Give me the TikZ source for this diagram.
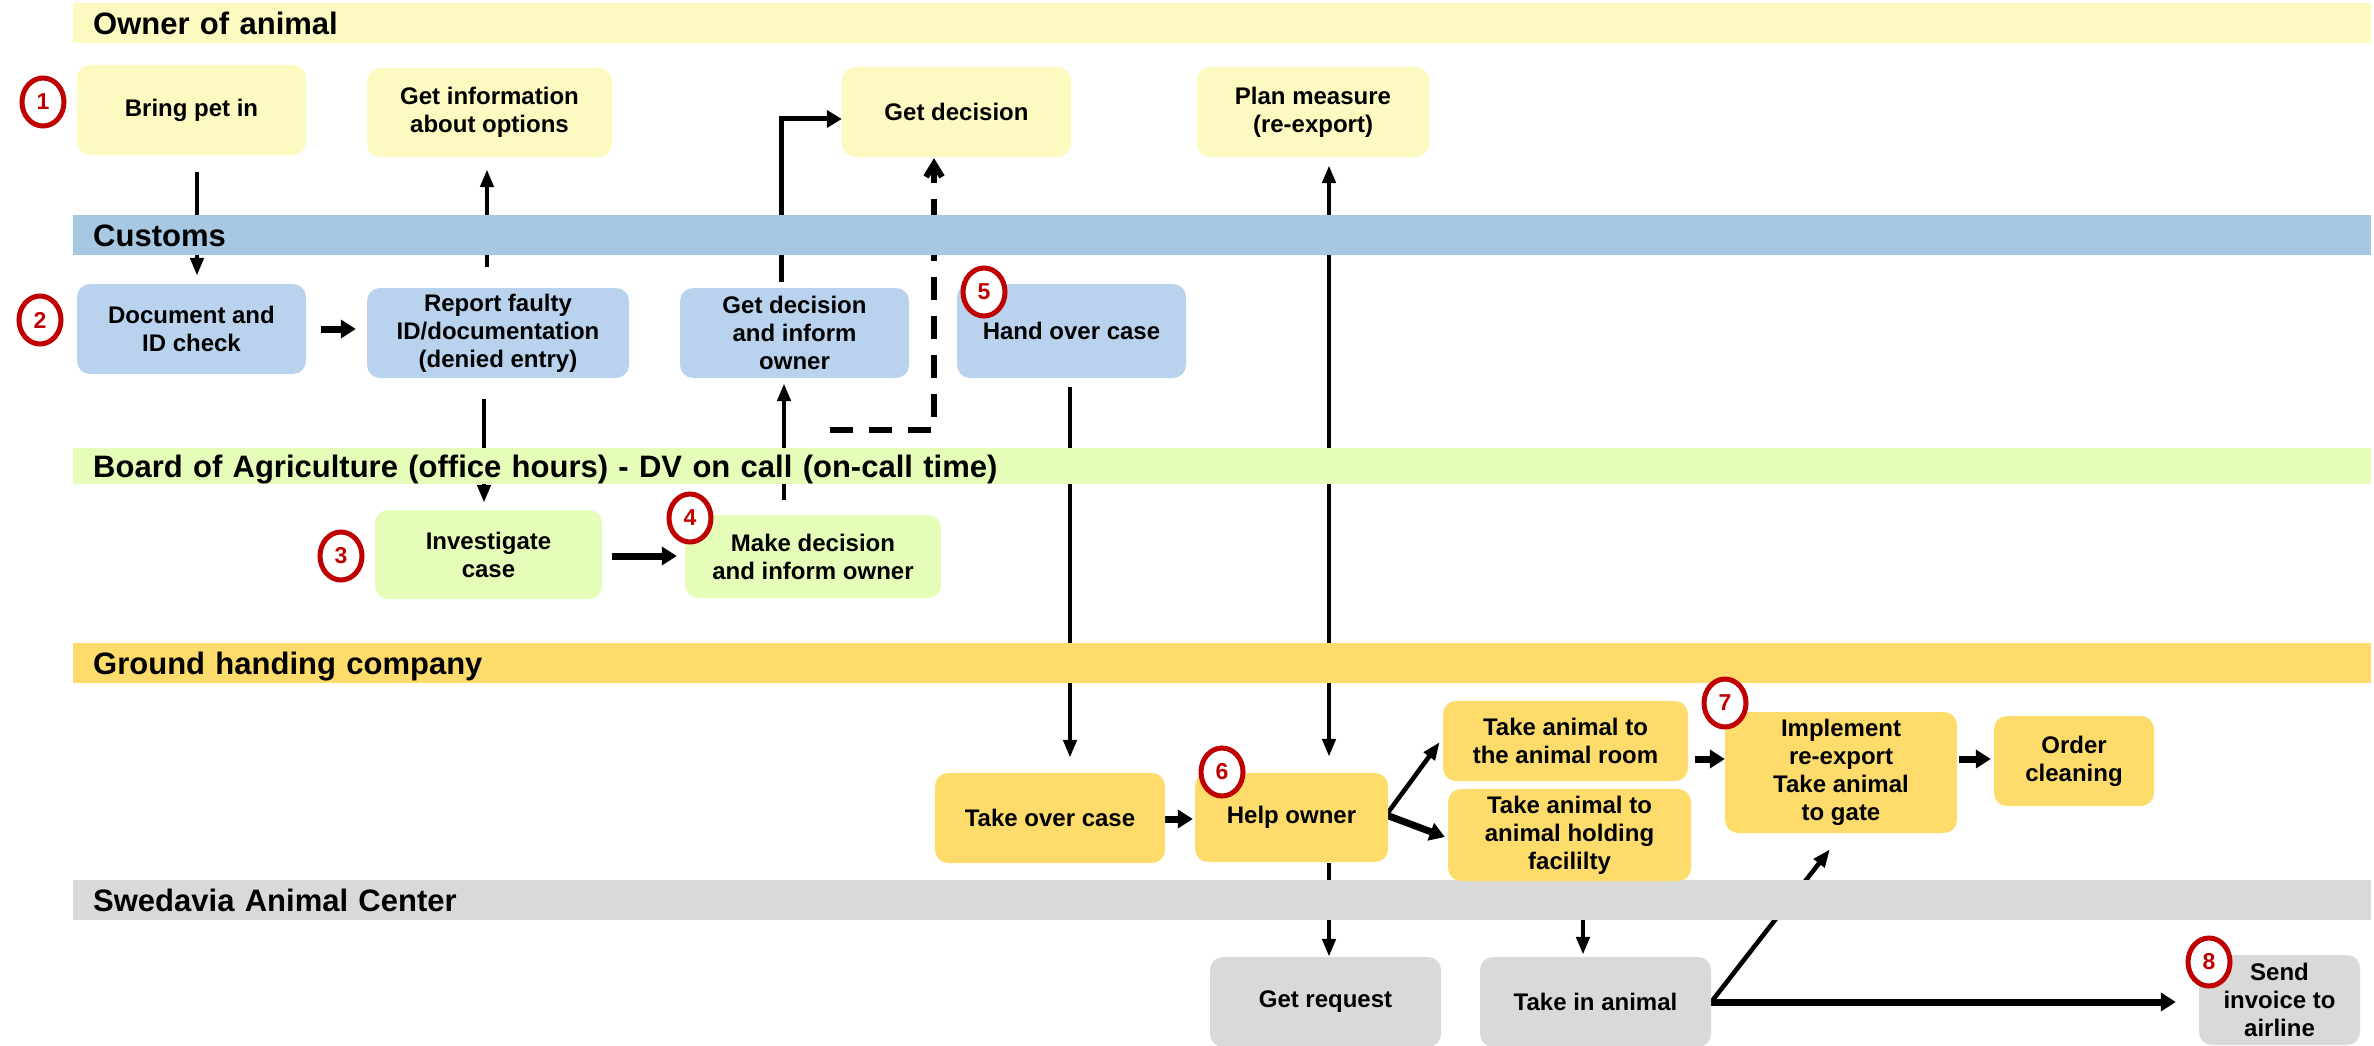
\documentclass[tikz,border=0pt]{standalone}
\usepackage{fontspec}
\setmainfont{Liberation Sans}
\usetikzlibrary{arrows.meta,calc,shapes.geometric}
\definecolor{ownerC}{HTML}{FCFAC0}
\definecolor{custBand}{HTML}{A6C8E2}
\definecolor{custBox}{HTML}{B9D3EE}
\definecolor{boardC}{HTML}{E5FDB8}
\definecolor{groundC}{HTML}{FEDC6B}
\definecolor{swedC}{HTML}{D9D9D9}
\definecolor{numred}{HTML}{C00000}
\pgfdeclarelayer{bg}
\pgfdeclarelayer{lines}
\pgfdeclarelayer{bands}
\pgfsetlayers{bg,lines,bands,main}
\begin{document}
\begin{tikzpicture}[x=1pt,y=-1pt,
 box/.style={rectangle, rounded corners=13pt, inner sep=0pt, align=center,
   font=\fontsize{24}{28}\selectfont\bfseries, text=black},
 lane/.style={rectangle, anchor=north west, inner xsep=20pt, inner ysep=0pt,
   minimum width=2298pt, text width=2258pt, align=left,
   font=\fontsize{31}{36}\selectfont\bfseries, text height=22pt, text depth=0pt},
 num/.style={ellipse, draw=numred, line width=5pt, fill=white, minimum width=42pt,
   minimum height=48pt, inner sep=0pt, text=numred, font=\fontsize{23}{24}\selectfont\bfseries},
 conn/.style={line width=4.6pt, -{Triangle[length=18pt,width=13pt]}},
 fat/.style={line width=7pt, -{Triangle[length=15pt,width=18pt]}},
 dashconn/.style={line width=6pt, dash pattern=on 23pt off 16pt, -{Straight Barb[length=13pt,width=16pt]}}
]
\useasboundingbox (0,0) rectangle (2374,1046);
\begin{pgfonlayer}{bg}
\fill[white] (0,0) rectangle (2374,1046);
\end{pgfonlayer}

% boxes: owner
\node[box, fill=ownerC, minimum width=229pt, minimum height=90pt] (bring) at (191.5,110) {Bring pet in};
\node[box, fill=ownerC, minimum width=245pt, minimum height=89pt] (info) at (489.5,112.5) {Get information\\about options};
\node[box, fill=ownerC, minimum width=229pt, minimum height=90pt] (getdec) at (956.5,112) {Get decision};
\node[box, fill=ownerC, minimum width=232pt, minimum height=90pt] (plan) at (1313,112) {Plan measure\\(re-export)};
% customs
\node[box, fill=custBox, minimum width=229pt, minimum height=90pt] (doc) at (191.5,329) {Document and\\ID check};
\node[box, fill=custBox, minimum width=262pt, minimum height=90pt] (report) at (498,333) {Report faulty\\ID/documentation\\(denied entry)};
\node[box, fill=custBox, minimum width=229pt, minimum height=90pt] (gdi) at (794.5,333) {Get decision\\and inform\\owner};
\node[box, fill=custBox, minimum width=229pt, minimum height=94pt] (hand) at (1071.5,331) {Hand over case};
% board
\node[box, fill=boardC, minimum width=227pt, minimum height=89pt] (invest) at (488.5,554.5) {Investigate\\case};
\node[box, fill=boardC, minimum width=256pt, minimum height=83pt] (make) at (813,556.5) {Make decision\\and inform owner};
% ground
\node[box, fill=groundC, minimum width=230pt, minimum height=90pt] (takeover) at (1050,818) {Take over case};
\node[box, fill=groundC, minimum width=193pt, minimum height=89pt] (help) at (1291.5,817.5) {Help owner};
\node[box, fill=groundC, minimum width=245pt, minimum height=80pt] (room) at (1565.5,741) {Take animal to\\the animal room};
\node[box, fill=groundC, minimum width=243pt, minimum height=92pt] (holding) at (1569.5,835) {Take animal to\\animal holding\\facililty};
\node[box, fill=groundC, minimum width=232pt, minimum height=121pt] (impl) at (1841,772.5) {Implement\\re-export\\Take animal\\to gate};
\node[box, fill=groundC, minimum width=160pt, minimum height=90pt] (order) at (2074,761) {Order\\cleaning};
% swedavia
\node[box, fill=swedC, minimum width=231pt, minimum height=90pt] (getreq) at (1325.5,1002) {Get request};
\node[box, fill=swedC, minimum width=231pt, minimum height=90pt] (takein) at (1595.5,1002) {Take in animal};
\node[box, fill=swedC, minimum width=161pt, minimum height=90pt] (send) at (2279.5,1000) {Send\\invoice to\\airline};

% numbers
\node[num] (n1) at (43,102) {1};
\node[num] (n2) at (40,320) {2};
\node[num] (n3) at (341,556) {3};
\node[num] (n4) at (690,518) {4};
\node[num] (n5) at (984,292) {5};
\node[num] (n6) at (1222,772) {6};
\node[num] (n7) at (1725,703) {7};
\node[num] (n8) at (2209,962) {8};

% lanes
\begin{pgfonlayer}{bands}
\node[lane, fill=ownerC, minimum height=40pt] (lOwner) at (73,3) {Owner of animal};
\node[lane, fill=custBand, minimum height=40pt] (lCust) at (73,215) {Customs};
\node[lane, fill=boardC, minimum height=36pt] (lBoard) at (73,448) {Board of Agriculture (office hours) - DV on call (on-call time)};
\node[lane, fill=groundC, minimum height=40pt] (lGround) at (73,643) {Ground handing company};
\node[lane, fill=swedC, minimum height=40pt] (lSwed) at (73,880) {Swedavia Animal Center};
\end{pgfonlayer}

% connectors
\begin{pgfonlayer}{lines}
\draw[conn] ($(bring.south)+(5.5,17)$) -- ($(doc.north)+(5.5,-8)$);
\draw[fat] ($(doc.east)+(15,0)$) -- ($(doc.east -| report.west)+(-11,0)$);
\draw[conn] ($(report.north)+(-11,-21)$) -- ($(info.south -| report.north)+(-11,12)$);
\draw[conn] ($(report.south)+(-14,21)$) -- ($(invest.north -| report.south)+(-14,-7)$);
\draw[fat] ($(invest.east)+(10,1.5)$) -- ($(make.west)+(-8,-0.5)$);
\draw[conn] ($(make.north)+(-29,-15)$) -- ($(gdi.south -| make.north)+(-29,5)$);
\draw[line width=5pt, -{Triangle[length=15pt,width=17pt]}] ($(gdi.north)+(-13.5,-6)$) |- ($(getdec.west)+(0,7)$);
\draw[dashconn] ($(gdi.south)+(35.5,52)$) -| ($(getdec.south)+(-22.5,1)$);
\draw[conn] ($(hand.south)+(-1.5,9)$) -- ($(takeover.north -| hand.south)+(-1.5,-15)$);
\draw[fat] ($(takeover.east)+(-2,1)$) -- ($(takeover.east -| help.west)+(-2,1)$);
\draw[line width=4.6pt, {Triangle[length=18pt,width=13pt]}-{Triangle[length=18pt,width=13pt]}]
  ($(plan.south)+(16,8)$) -- ($(help.north -| plan.south)+(16,-16)$);
\draw[conn] ($(help.south)+(37.5,1)$) -- ($(getreq.north)+(3.5,0)$);
\draw[conn] ($(help.east)+(-2,-2.5)$) -- ($(room.west)+(-3,1)$);
\draw[fat] ($(help.east)+(-2,-2.5)$) -- ($(holding.west)+(-3,2)$);
\draw[fat] ($(room.east)+(7,18)$) -- ($(room.east -| impl.west)+(0,18)$);
\draw[fat] ($(impl.east)+(2,-13.5)$) -- ($(order.west)+(-3,-2)$);
\draw[conn] ($(holding.south)+(13.5,0)$) -- ($(takein.north)+(-12.5,-2)$);
\draw[conn] (takein.east) -- ($(impl.south)+(-11,16)$);
\draw[fat] (takein.east) -- ($(send.west)+(-23,2)$);
\end{pgfonlayer}
\end{tikzpicture}
\end{document}
